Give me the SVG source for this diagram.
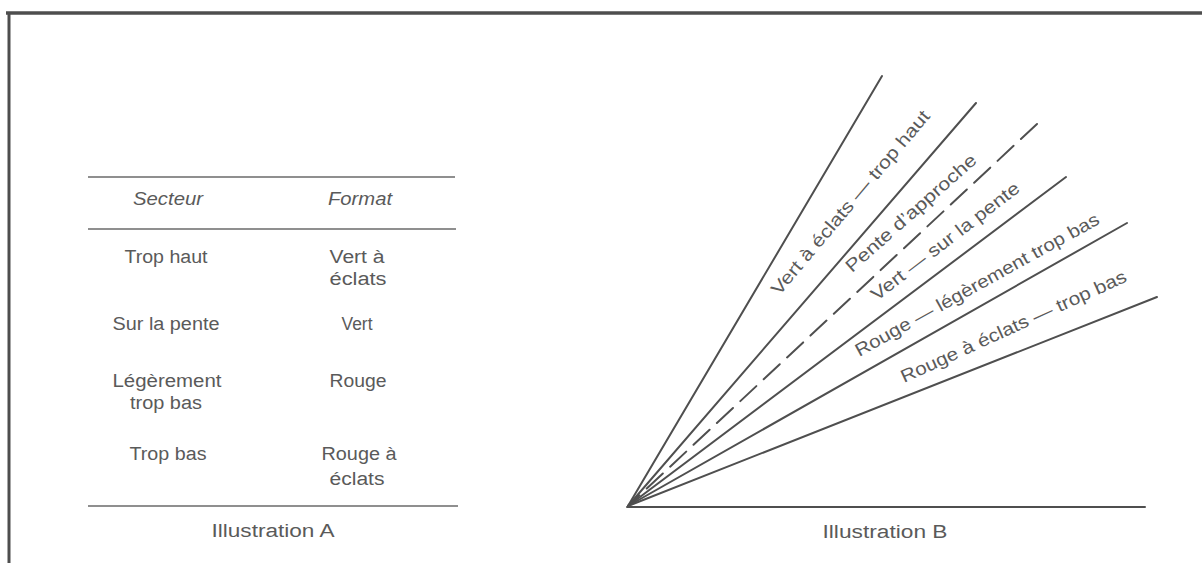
<svg xmlns="http://www.w3.org/2000/svg" width="1202" height="563" viewBox="0 0 1202 563">
<style>
.t{font-family:"Liberation Sans",Arial,sans-serif;font-size:18px;fill:#5a5a5a;text-anchor:middle}
.i{font-style:italic}
.rule{stroke:#6a6a6a;stroke-width:1.6;fill:none}
.ray{stroke:#4f4f4f;stroke-width:2;fill:none;stroke-linecap:round}
.border{stroke:#4e4e4e;fill:none}
</style>
<rect width="1202" height="563" fill="#ffffff"/>
<g id="frame">
<line class="border" x1="6" y1="13" x2="1202" y2="13" stroke-width="3.5"/>
<line class="border" x1="9" y1="12" x2="9" y2="563" stroke-width="3"/>
</g>
<g id="table-A">
<line class="rule" x1="88" y1="177" x2="455" y2="177"/>
<line class="rule" x1="88" y1="229" x2="456" y2="229"/>
<line class="rule" x1="88" y1="506" x2="458" y2="506"/>
<text class="t i" x="168" y="205" textLength="70" lengthAdjust="spacingAndGlyphs">Secteur</text>
<text class="t i" x="360" y="205" textLength="64" lengthAdjust="spacingAndGlyphs">Format</text>
<g id="row1">
<text class="t" x="166" y="263" textLength="83" lengthAdjust="spacingAndGlyphs">Trop haut</text>
<text class="t" x="357" y="263" textLength="55" lengthAdjust="spacingAndGlyphs">Vert à</text>
<text class="t" x="358" y="285" textLength="57" lengthAdjust="spacingAndGlyphs">éclats</text>
</g>
<g id="row2">
<text class="t" x="166" y="330" textLength="107" lengthAdjust="spacingAndGlyphs">Sur la pente</text>
<text class="t" x="357" y="330" textLength="31" lengthAdjust="spacingAndGlyphs">Vert</text>
</g>
<g id="row3">
<text class="t" x="167" y="387" textLength="109" lengthAdjust="spacingAndGlyphs">Légèrement</text>
<text class="t" x="166" y="409" textLength="72" lengthAdjust="spacingAndGlyphs">trop bas</text>
<text class="t" x="358" y="387" textLength="57" lengthAdjust="spacingAndGlyphs">Rouge</text>
</g>
<g id="row4">
<text class="t" x="168" y="460" textLength="77" lengthAdjust="spacingAndGlyphs">Trop bas</text>
<text class="t" x="359" y="460" textLength="75" lengthAdjust="spacingAndGlyphs">Rouge à</text>
<text class="t" x="357" y="485" textLength="55" lengthAdjust="spacingAndGlyphs">éclats</text>
</g>
<text class="t" x="273" y="537" textLength="123" lengthAdjust="spacingAndGlyphs">Illustration A</text>
</g>
<g id="connectors">
<line class="ray" x1="628" y1="506" x2="882" y2="76"/>
<line class="ray" x1="628" y1="506" x2="976" y2="103"/>
<line class="ray" x1="1037" y1="124" x2="628" y2="506" stroke-dasharray="22 10" stroke-linecap="butt"/>
<line class="ray" x1="628" y1="506" x2="1066" y2="177"/>
<line class="ray" x1="628" y1="506" x2="1127" y2="223"/>
<line class="ray" x1="628" y1="506" x2="1157" y2="297"/>
<line class="ray" x1="627" y1="507" x2="1145" y2="507" stroke-width="3"/>
</g>
<g id="label-vert-eclats">
<text class="t" transform="translate(855,206.5) rotate(-49.8)" textLength="235" lengthAdjust="spacingAndGlyphs">Vert à éclats — trop haut</text>
</g>
<g id="label-pente">
<text class="t" transform="translate(915,217.5) rotate(-41.5)" textLength="168" lengthAdjust="spacingAndGlyphs">Pente d’approche</text>
</g>
<g id="label-vert">
<text class="t" transform="translate(949,246) rotate(-37.5)" textLength="182" lengthAdjust="spacingAndGlyphs">Vert — sur la pente</text>
</g>
<g id="label-rouge">
<text class="t" transform="translate(980,290) rotate(-29)" textLength="276" lengthAdjust="spacingAndGlyphs">Rouge — légèrement trop bas</text>
</g>
<g id="label-rouge-eclats">
<text class="t" transform="translate(1016,332) rotate(-24.5)" textLength="246" lengthAdjust="spacingAndGlyphs">Rouge à éclats — trop bas</text>
</g>
<text class="t" x="885" y="538" textLength="125" lengthAdjust="spacingAndGlyphs">Illustration B</text>
</svg>
